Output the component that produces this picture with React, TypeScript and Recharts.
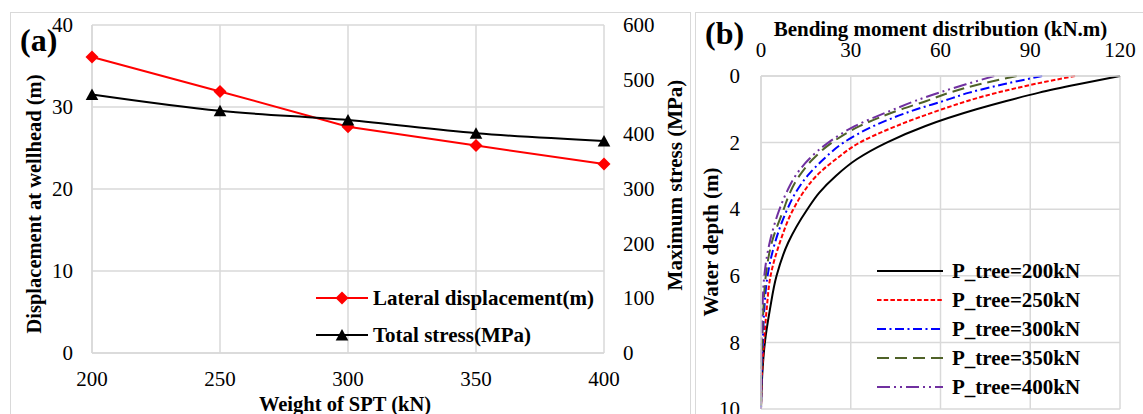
import React from 'react';
import { LineChart, Line, XAxis, YAxis, CartesianGrid } from 'recharts';

const FONT = '"Liberation Serif", "Times New Roman", Times, serif';
const GRID = '#D9D9D9';
const FS = 21;

// ---------- Panel (a) data ----------
const weights = [200, 250, 300, 350, 400];
const displacement = [36.1, 31.9, 27.6, 25.3, 23.05];
const totalStress = [473, 443, 426, 402, 388];
const weightTicks = [200, 250, 300, 350, 400];
const dispTicks = [0, 10, 20, 30, 40];
const stressTicks = [0, 100, 200, 300, 400, 500, 600];

// ---------- Panel (b) data ----------
const depth = [0, 0.25, 0.5, 0.75, 1, 1.5, 2, 2.5, 3, 3.5, 4, 5, 6, 7, 8, 9, 10];
const m200 = [120, 106, 93, 82, 72, 55, 42, 32, 25, 19.5, 15.5, 9.1, 5.2, 3, 1.3, 0.4, 0];
const m250 = [105, 91, 79, 69, 60.5, 45.3, 33, 25, 18.5, 14.1, 10.8, 6.3, 3.2, 1.9, 1, 0.3, 0];
const m300 = [94, 81, 69.6, 61, 52, 37.7, 27.6, 20.9, 15.5, 11.6, 8.8, 4.7, 2.2, 1.1, 0.6, 0.2, 0];
const m350 = [85.5, 73, 63, 55.3, 46.9, 33.1, 23.7, 17.3, 12.8, 9.7, 7.6, 3.6, 1.6, 0.8, 0.4, 0.1, 0];
const m400 = [78, 68.5, 59.5, 51.5, 44.5, 31.5, 22.5, 16, 11.5, 8.5, 6.2, 2.9, 1.1, 0.5, 0.2, 0.05, 0];
const momentTicks = [0, 30, 60, 90, 120];
const depthTicks = [0, 2, 4, 6, 8, 10];

const seriesB = [
  { key: 'p200', name: 'P_tree=200kN', values: m200, color: '#000000', dash: undefined as string | undefined },
  { key: 'p250', name: 'P_tree=250kN', values: m250, color: '#FF0000', dash: '4.5 2.2' },
  { key: 'p300', name: 'P_tree=300kN', values: m300, color: '#0000FF', dash: '9 3.5 2 3.5' },
  { key: 'p350', name: 'P_tree=350kN', values: m350, color: '#4F6228', dash: '12 6' },
  { key: 'p400', name: 'P_tree=400kN', values: m400, color: '#7030A0', dash: '13 4 2 4 2 4' },
];

const dataA = weights.map((w, i) => ({ w, disp: displacement[i], stress: totalStress[i] }));
const dataB = depth.map((z, i) => {
  const row: any = { z };
  seriesB.forEach((s) => (row[s.key] = s.values[i]));
  return row;
});

const makeTick = (anchor: 'start' | 'middle' | 'end', dy: string) => (props: any) => {
  const { x, y, payload, index } = props;
  return (
    <text
      key={`tk${index}-${payload && payload.value}`}
      x={x}
      y={y}
      dy={dy}
      textAnchor={anchor}
      fill="#000"
      fontSize={FS}
      fontFamily={FONT}
      style={{ fontFamily: FONT }}
    >
      {payload.value}
    </text>
  );
};

const tickBottom = makeTick('middle', '0.68em');
const tickTop = makeTick('middle', '0');
const tickLeft = makeTick('end', '0.34em');
const tickRight = makeTick('start', '0.34em');

const Diamond = (props: any) => {
  const { cx, cy, index } = props;
  if (cx == null || cy == null) return <g key={`d${index}`} />;
  const r = 6.5;
  return (
    <path key={`d${index}`} d={`M${cx},${cy - r}L${cx + r},${cy}L${cx},${cy + r}L${cx - r},${cy}Z`} fill="#FF0000" />
  );
};

const Triangle = (props: any) => {
  const { cx, cy, index } = props;
  if (cx == null || cy == null) return <g key={`t${index}`} />;
  return (
    <path key={`t${index}`} d={`M${cx},${cy - 6}L${cx + 6.3},${cy + 5.5}L${cx - 6.3},${cy + 5.5}Z`} fill="#000" />
  );
};

function PanelA() {
  return (
    <LineChart width={700} height={414} data={dataA} margin={{ top: 25, right: 36, bottom: 21, left: 32 }}>
      <CartesianGrid yAxisId="left" stroke={GRID} strokeWidth={1.5} />
      <XAxis
        dataKey="w"
        type="number"
        domain={[200, 400]}
        ticks={weightTicks}
        interval={0}
        height={40}
        tickSize={0}
        tickMargin={19}
        tickLine={false}
        axisLine={{ stroke: GRID, strokeWidth: 1.5 }}
        tick={tickBottom}
      />
      <YAxis
        yAxisId="left"
        type="number"
        domain={[0, 40]}
        ticks={dispTicks}
        interval={0}
        width={60}
        tickSize={0}
        tickMargin={19}
        tickLine={false}
        axisLine={{ stroke: GRID, strokeWidth: 1.5 }}
        tick={tickLeft}
      />
      <YAxis
        yAxisId="right"
        orientation="right"
        type="number"
        domain={[0, 600]}
        ticks={stressTicks}
        interval={0}
        width={60}
        tickSize={0}
        tickMargin={19}
        tickLine={false}
        axisLine={false}
        tick={tickRight}
      />
      <Line
        yAxisId="left"
        dataKey="disp"
        type="linear"
        stroke="#FF0000"
        strokeWidth={2}
        dot={Diamond}
        activeDot={false}
        isAnimationActive={false}
      />
      <Line
        yAxisId="right"
        dataKey="stress"
        type="monotone"
        stroke="#000"
        strokeWidth={2}
        dot={Triangle}
        activeDot={false}
        isAnimationActive={false}
      />
    </LineChart>
  );
}

function PanelB() {
  return (
    <LineChart layout="vertical" width={453} height={414} data={dataB} margin={{ top: 46, right: 23, bottom: 5, left: 21 }}>
      <CartesianGrid stroke={GRID} strokeWidth={1.5} />
      <XAxis
        type="number"
        orientation="top"
        domain={[0, 120]}
        ticks={momentTicks}
        interval={0}
        height={30}
        tickSize={0}
        tickMargin={19}
        tickLine={false}
        axisLine={{ stroke: GRID, strokeWidth: 1.5 }}
        tick={tickTop}
      />
      <YAxis
        type="number"
        dataKey="z"
        domain={[0, 10]}
        ticks={depthTicks}
        interval={0}
        width={50}
        tickSize={0}
        tickMargin={21}
        tickLine={false}
        axisLine={{ stroke: GRID, strokeWidth: 1.5 }}
        tick={tickLeft}
      />
      {seriesB.map((s) => (
        <Line
          key={s.key}
          dataKey={s.key}
          type="monotone"
          stroke={s.color}
          strokeWidth={2}
          strokeDasharray={s.dash}
          dot={false}
          activeDot={false}
          isAnimationActive={false}
        />
      ))}
    </LineChart>
  );
}

const legendA = [
  { name: 'Lateral displacement(m)', color: '#FF0000', marker: 'diamond' },
  { name: 'Total stress(MPa)', color: '#000000', marker: 'triangle' },
];

export default function App() {
  return (
    <div
      style={{
        position: 'absolute',
        left: 0,
        top: 0,
        width: 1143,
        height: 414,
        overflow: 'hidden',
        background: '#fff',
        fontFamily: FONT,
      }}
    >
      <div style={{ position: 'absolute', left: 10, top: 12, width: 681, height: 440, border: `1.5px solid ${GRID}`, boxSizing: 'border-box' }} />
      <div style={{ position: 'absolute', left: 695, top: 12, width: 470, height: 440, border: `1.5px solid ${GRID}`, boxSizing: 'border-box' }} />
      <div style={{ position: 'absolute', left: 0, top: 0 }}>
        <PanelA />
      </div>
      <div style={{ position: 'absolute', left: 690, top: 0 }}>
        <PanelB />
      </div>
      {/* Legend (a) */}
      <div style={{ position: 'absolute', left: 316, top: 279.5 }}>
        {legendA.map((l) => (
          <div key={l.name} style={{ display: 'flex', alignItems: 'center', height: 37 }}>
            <svg width={57} height={16} style={{ display: 'block' }}>
              <line x1={0} y1={8} x2={52} y2={8} stroke={l.color} strokeWidth={2} />
              {l.marker === 'diamond' ? (
                <path d="M26,1.5L32.5,8L26,14.5L19.5,8Z" fill={l.color} />
              ) : (
                <path d="M26,2L32.3,13.5L19.7,13.5Z" fill={l.color} />
              )}
            </svg>
            <span style={{ fontSize: FS, fontWeight: 'bold', color: '#000', lineHeight: 1, whiteSpace: 'nowrap' }}>{l.name}</span>
          </div>
        ))}
      </div>
      {/* Legend (b) */}
      <div style={{ position: 'absolute', left: 877, top: 256.5 }}>
        {seriesB.map((s) => (
          <div key={s.key} style={{ display: 'flex', alignItems: 'center', height: 29 }}>
            <svg width={75} height={10} style={{ display: 'block' }}>
              <line x1={0} y1={5} x2={66} y2={5} stroke={s.color} strokeWidth={2} strokeDasharray={s.dash} />
            </svg>
            <span style={{ fontSize: FS, fontWeight: 'bold', color: '#000', lineHeight: 1, whiteSpace: 'nowrap' }}>{s.name}</span>
          </div>
        ))}
      </div>
      {/* Titles */}
      <svg width={1143} height={414} style={{ position: 'absolute', left: 0, top: 0, pointerEvents: 'none' }}>
        <g fontFamily={FONT} fontWeight="bold" fill="#000">
          <text x={20} y={51} fontSize={32}>(a)</text>
          <text x={705} y={44} fontSize={32}>(b)</text>
          <text x={345} y={411} fontSize={20.5} textAnchor="middle">Weight of SPT (kN)</text>
          <text x={34} y={204} fontSize={20.5} textAnchor="middle" dominantBaseline="central" transform="rotate(-90 34 204)">
            Displacement at wellhead (m)
          </text>
          <text x={675} y={185} fontSize={FS} textAnchor="middle" dominantBaseline="central" transform="rotate(-90 675 185)">
            Maximum stress (MPa)
          </text>
          <text x={940.5} y={36} fontSize={FS} textAnchor="middle">Bending moment distribution (kN.m)</text>
          <text x={711} y={242} fontSize={FS} textAnchor="middle" dominantBaseline="central" transform="rotate(-90 711 242)">
            Water depth (m)
          </text>
        </g>
      </svg>
    </div>
  );
}
